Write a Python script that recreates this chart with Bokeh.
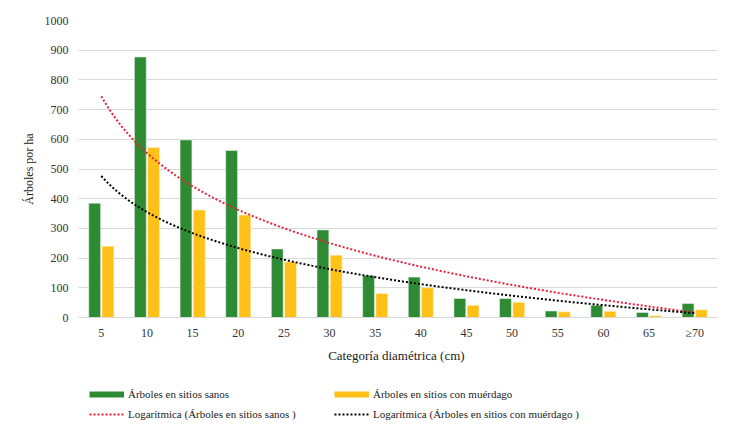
import numpy as np
from bokeh.plotting import figure
from bokeh.layouts import column
from bokeh.models import Range1d, FixedTicker, Legend, LegendItem, ColumnDataSource
from bokeh.transform import dodge
from bokeh.embed import file_html
from bokeh.resources import INLINE

categories = ["5", "10", "15", "20", "25", "30", "35", "40", "45", "50", "55", "60", "65", "≥70"]
sanos = [385, 877, 598, 562, 231, 295, 141, 136, 64, 64, 22, 41, 17, 47]
muerdago = [240, 572, 362, 345, 187, 210, 81, 100, 41, 51, 19, 21, 6, 26]
y_ticks = [0, 100, 200, 300, 400, 500, 600, 700, 800, 900, 1000]

GREEN = "#2E8B34"
YELLOW = "#FFC018"
RED = "#E8203C"
FONT = "Liberation Serif"

idx = list(range(1, len(categories) + 1))
src = ColumnDataSource(dict(x=idx, sanos=sanos, muerdago=muerdago))

p = figure(width=729, height=365, output_backend="svg", toolbar_location=None,
           x_range=Range1d(0.5, len(categories) + 0.5), y_range=Range1d(0, 1000),
           min_border_left=78, min_border_right=12, min_border_top=20, min_border_bottom=44)
p.outline_line_color = None
p.background_fill_color = "white"

p.vbar(x=dodge("x", -0.145, range=p.x_range), top="sanos", width=0.26, source=src,
       fill_color=GREEN, line_color="#E8F2E8", line_width=0.6)
p.vbar(x=dodge("x", 0.145, range=p.x_range), top="muerdago", width=0.26, source=src,
       fill_color=YELLOW, line_color="#FFF3D0", line_width=0.6)

# logarithmic trend lines (least-squares fit of y on ln(x), as in the original)
lx = np.log(np.array(idx, dtype=float))
a_s, b_s = np.polyfit(lx, np.array(sanos, dtype=float), 1)
a_m, b_m = np.polyfit(lx, np.array(muerdago, dtype=float), 1)
t = np.linspace(1, len(categories), 300)
p.line(t, a_s * np.log(t) + b_s, line_color=RED, line_width=2, line_dash="2 2")
p.line(t, a_m * np.log(t) + b_m, line_color="black", line_width=2, line_dash="2 2")

p.xaxis.ticker = FixedTicker(ticks=idx)
p.xaxis.major_label_overrides = {i: c for i, c in zip(idx, categories)}
p.yaxis.ticker = FixedTicker(ticks=y_ticks)
p.xgrid.grid_line_color = None
p.ygrid.grid_line_color = "#D9D9D9"
p.ygrid.grid_line_width = 1

for ax in (p.xaxis, p.yaxis):
    ax.major_tick_line_color = None
    ax.minor_tick_line_color = None
    ax.major_tick_out = 0
    ax.major_tick_in = 0
    ax.major_label_text_font = FONT
    ax.major_label_text_font_size = "12px"
    ax.major_label_text_color = "#333333"
    ax.axis_label_text_font = FONT
    ax.axis_label_text_font_size = "12px"
    ax.axis_label_text_font_style = "normal"
    ax.axis_label_text_color = "#222222"
p.xaxis.axis_label_text_font_size = "13px"
p.yaxis.axis_line_color = None
p.xaxis.axis_line_color = "#D9D9D9"
p.yaxis.major_label_standoff = 10
p.xaxis.major_label_standoff = 8
p.yaxis.axis_label = "Árboles por ha"
p.xaxis.axis_label = "Categoría  diamétrica (cm)"
p.yaxis.axis_label_standoff = 6
p.xaxis.axis_label_standoff = 5

# legend panel (swatch renderers lie outside its visible range)
lg = figure(width=729, height=69, output_backend="svg", toolbar_location=None,
            x_range=Range1d(0, 1), y_range=Range1d(0, 1), x_axis_type=None, y_axis_type=None,
            min_border=0)
lg.outline_line_color = None
lg.grid.visible = False
off = [-10, -9]
sw_s = lg.line(x=off, y=off, line_color=GREEN, line_width=6)
sw_m = lg.line(x=off, y=off, line_color=YELLOW, line_width=6)
sw_ts = lg.line(x=off, y=off, line_color=RED, line_width=2, line_dash="2 2")
sw_tm = lg.line(x=off, y=off, line_color="black", line_width=2, line_dash="2 2")

legend = Legend(items=[
    LegendItem(label="Árboles en sitios sanos", renderers=[sw_s]),
    LegendItem(label="Logarítmica (Árboles en sitios sanos )", renderers=[sw_ts]),
    LegendItem(label="Árboles en sitios con muérdago", renderers=[sw_m]),
    LegendItem(label="Logarítmica (Árboles en sitios con muérdago )", renderers=[sw_tm]),
], ncols=2, location=(11, 10))
legend.padding = 0
legend.margin = 0
legend.spacing = 0
legend.border_line_color = None
legend.background_fill_alpha = 0
legend.glyph_width = 35
legend.glyph_height = 20
legend.label_height = 20
legend.label_width = 206
legend.label_standoff = 4
legend.label_text_font = FONT
legend.label_text_font_size = "11px"
legend.label_text_color = "#222222"
lg.add_layout(legend, "center")

open("out.html", "w").write(file_html(column(p, lg), INLINE))
